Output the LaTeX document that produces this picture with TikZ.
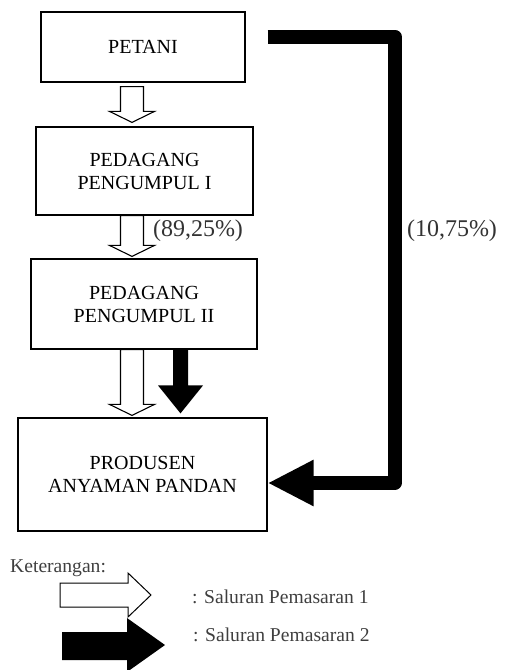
\documentclass[tikz,border=0pt]{standalone}
\usepackage{fontspec}
\setmainfont{Liberation Serif}
\usetikzlibrary{calc,arrows.meta}
\definecolor{labgrey}{HTML}{333333}
\definecolor{leggrey}{HTML}{3F3F3F}
\tikzset{
  box/.style={draw=black, line width=1.2pt, fill=white, inner sep=0pt, align=center,
    font=\fontsize{20}{23}\selectfont},
  blockw/.style={draw=black, line width=1.1pt, fill=white, line join=miter},
  blockb/.style={fill=black, draw=none},
  pct/.style={font=\fontsize{24}{26}\selectfont, text=labgrey, inner sep=0pt},
  legtext/.style={font=\fontsize{19.6}{22}\selectfont, text=leggrey, inner sep=0pt, anchor=west}
}
\newcommand\wharrow[5]{%
  \draw[blockw] let \p1=(#2.south), \p2=(#3.north) in
   (#1pt-11.5pt,\y1-#4pt) -- (#1pt+11.5pt,\y1-#4pt) -- (#1pt+11.5pt,\y2+#5pt+11pt)
   -- (#1pt+22.5pt,\y2+#5pt+11pt) -- (#1pt,\y2+#5pt) -- (#1pt-22.5pt,\y2+#5pt+11pt)
   -- (#1pt-11.5pt,\y2+#5pt+11pt) -- cycle;}
\newcommand\bkarrow[5]{%
  \fill[blockb] let \p1=(#2.south), \p2=(#3.north) in
   (#1pt-7.5pt,\y1-#4pt) -- (#1pt+7.5pt,\y1-#4pt) -- (#1pt+7.5pt,\y2+#5pt+28pt)
   -- (#1pt+22.5pt,\y2+#5pt+28pt) -- (#1pt,\y2+#5pt) -- (#1pt-22.5pt,\y2+#5pt+28pt)
   -- (#1pt-7.5pt,\y2+#5pt+28pt) -- cycle;}
\begin{document}
\begin{tikzpicture}[x=1pt,y=-1pt]
\useasboundingbox (0,0) rectangle (505,670);
\clip (0,0) rectangle (505,670);

\node[box, minimum width=204pt, minimum height=70pt] (petani) at (143,47) {PETANI};
\node[box, minimum width=217pt, minimum height=88pt] (peng1) at (144.5,171) {PEDAGANG\\PENGUMPUL I};
\node[box, minimum width=226pt, minimum height=90pt] (peng2) at (144,304) {PEDAGANG\\PENGUMPUL II};
\node[box, minimum width=249pt, minimum height=113pt] (prod) at (142.5,474.5) {PRODUSEN\\ANYAMAN PANDAN};

% channel 1 (white block arrows)
\wharrow{132}{petani}{peng1}{4}{4}
\wharrow{132}{peng1}{peng2}{0}{2}
\wharrow{132}{peng2}{prod}{0}{2}
% channel 2 short black arrow
\bkarrow{180.5}{peng2}{prod}{0}{4}

% channel 2 long black connector
\coordinate (st) at ($(petani.east)+(22,-10.5)$);
\coordinate (tp) at ($(prod.east)+(0,8.5)$);
\coordinate (rx) at (394.5,0);
\draw[line width=14pt, line join=round, -{Triangle[length=46pt,width=43pt]}]
  (st) -- (rx |- st) -- (rx |- tp) -- (tp);

\node[pct] (p1) at (198,231) {(89,25\%)};
\node[pct] (p2) at (452,231) {(10,75\%)};

% legend
\node[legtext] (ket) at (10,568) {Keterangan:};
\draw[blockw, line width=1pt] (60,583) -- (128,583) -- (128,573) -- (151,595) -- (128,617)
  -- (128,607) -- (60,607) -- cycle;
\node[legtext] (l1) at (192,597) {: Saluran Pemasaran 1};
\fill[blockb] (62,632) -- (127,632) -- (127,618) -- (165,645) -- (127,672) -- (127,660)
  -- (62,660) -- cycle;
\node[legtext] (l2) at (193,635) {: Saluran Pemasaran 2};
\end{tikzpicture}
\end{document}
